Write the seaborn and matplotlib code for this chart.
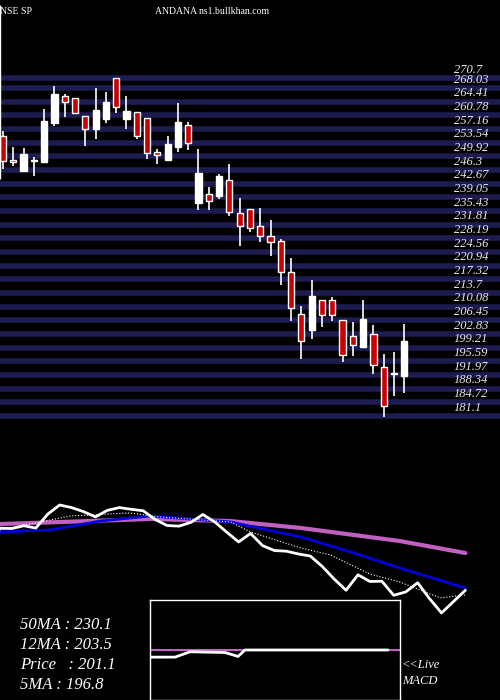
import numpy as np
import pandas as pd
import matplotlib
matplotlib.use("Agg")
import matplotlib.pyplot as plt
import seaborn as sns

sns.set_style("dark")
plt.rcParams['font.family'] = ['Liberation Serif', 'DejaVu Serif']

opens = [255.4, 248.9, 246.1, 248.6, 248.4, 258.9, 265.9, 265.4, 260.7, 257.1,
         259.9, 270.7, 259.9, 261.7, 260.1, 251.2, 248.9, 252.5, 258.3, 237.6,
         240.0, 239.5, 243.6, 235.0, 236.0, 231.5, 228.9, 227.6, 219.4, 208.1,
         203.8, 211.9, 211.9, 206.6, 202.4, 199.5, 202.9, 194.2, 192.1, 191.6]
highs = [256.6, 252.3, 252.1, 249.7, 262.6, 268.6, 266.4, 265.4, 260.7, 268.1,
         267.0, 270.7, 265.9, 261.7, 260.1, 251.8, 255.3, 264.1, 259.1, 251.8,
         241.8, 245.3, 247.8, 239.0, 236.0, 236.3, 233.1, 228.1, 223.0, 210.2,
         217.2, 211.9, 212.7, 206.6, 206.1, 211.9, 205.3, 197.4, 198.1, 205.6]
lows = [246.6, 247.3, 246.1, 244.8, 248.4, 258.1, 260.4, 261.3, 252.8, 254.4,
        258.9, 261.3, 257.3, 254.4, 249.1, 247.9, 248.9, 251.2, 251.5, 235.8,
        235.8, 238.6, 234.2, 226.1, 229.8, 227.3, 223.6, 215.8, 206.3, 196.2,
        201.6, 204.8, 206.3, 195.4, 197.0, 199.5, 192.1, 180.8, 186.4, 187.3]
closes = [248.6, 248.4, 250.5, 248.7, 259.4, 266.4, 264.4, 261.3, 257.3, 262.3,
          264.4, 263.1, 262.0, 255.3, 250.7, 250.2, 253.1, 259.1, 253.4, 245.6,
          238.1, 244.6, 235.3, 231.5, 231.0, 228.9, 227.3, 219.4, 209.7, 201.1,
          212.9, 207.8, 208.0, 197.2, 199.8, 206.8, 194.6, 183.7, 192.4, 201.1]

grid_labels = ['270.7', '268.03', '264.41', '260.78', '257.16', '253.54', '249.92',
               '246.3', '242.67', '239.05', '235.43', '231.81', '228.19', '224.56',
               '220.94', '217.32', '213.7', '210.08', '206.45', '202.83', '199.21',
               '195.59', '191.97', '188.34', '184.72', '181.1']

ma50_x = [0, 12.6, 19.3, 25.2, 33.5, 39]
ma50 = [251.8, 255.7, 254.1, 248.8, 238.8, 229.6]
ma12_x = [0, 4.2, 8.4, 12.6, 19.3, 25.2, 29.4, 33.5, 39]
ma12 = [245.7, 247.3, 254.1, 258.0, 253.4, 241.9, 230.4, 218.1, 202.8]
ma5_x = [0, 5.9, 10.9, 13.4, 19.3, 21, 25.2, 27.7, 31, 33.5, 36.9, 39]
ma5 = [247.3, 258.0, 260.3, 257.2, 253.4, 245.7, 233.5, 228.1, 213.5, 207.4, 195.2, 197.5]

macd_x = [0, 25, 40, 75, 88, 95, 238]
macd = [-2, -2, -0.5, -0.7, -1.8, 0, 0]
signal_x = [0, 250]
signal = [0, 0]

labels = ['50MA : 230.1', '12MA : 203.5', 'Price   : 201.1', '5MA : 196.8']

df = pd.DataFrame({'o': opens, 'h': highs, 'l': lows, 'c': closes})
df['i'] = np.arange(len(df))
df['up'] = df['c'] >= df['o']

fig = plt.figure(figsize=(5, 7), dpi=100, facecolor='black')

# price panel
ax = fig.add_axes([0, 1 - 455 / 700, 1, 455 / 700])
ax.set_facecolor('black')
for s in ax.spines.values():
    s.set_visible(False)
ax.set_xlim(-0.29, 48.3)
ax.set_ylim(270.7 - 455 * 0.2651 + 78 * 0.2651, 270.7 + 78 * 0.2651)
for lab in grid_labels:
    v = float(lab)
    ax.axhline(v, color='#1c1c50', lw=4, zorder=1)
    ax.text(43.8, v + 0.6, lab, color='#e8e8e8', fontsize=9, style='italic', va='bottom', zorder=3)
for _, r in df.iterrows():
    col = 'white' if r['up'] else '#cc0000'
    ax.vlines(r['i'], r['l'], r['h'], color='white', lw=1.2, zorder=2)
    lo, hi = min(r['o'], r['c']), max(r['o'], r['c'])
    ax.bar(r['i'], max(hi - lo, 0.4), bottom=lo, width=0.6, color=col,
           edgecolor='white', lw=1, zorder=3)
ax.vlines(-0.25, 244.0, 290.0, color='white', lw=1, zorder=4)
ax.set_xticks([])
ax.set_yticks([])

# moving average panel
ax2 = fig.add_axes([0, 0, 1, 245 / 700])
ax2.set_facecolor('black')
for s in ax2.spines.values():
    s.set_visible(False)
ax2.set_xlim(0, 41.9)
ax2.set_ylim(117.0, 304.7)
sns.lineplot(x=ma50_x, y=ma50, ax=ax2, color='#c060c0', lw=3)
sns.lineplot(x=ma12_x, y=ma12, ax=ax2, color='#0000dd', lw=2)
sns.lineplot(x=ma5_x, y=ma5, ax=ax2, color='white', lw=0.8, ls=':')
sns.lineplot(x=np.linspace(0, 39, len(closes)), y=closes, ax=ax2, color='white', lw=2)
ax2.set_xticks([])
ax2.set_yticks([])
for k, t in enumerate(labels):
    fig.text(20 / 500, 1 - (625 + 20 * k) / 700, t, color='white', fontsize=12,
             style='italic', va='center')
fig.text(402 / 500, 1 - 665 / 700, '<<Live', color='white', fontsize=9, style='italic', va='center')
fig.text(402 / 500, 1 - 681 / 700, 'MACD', color='white', fontsize=9, style='italic', va='center')

# MACD box
ax3 = fig.add_axes([150 / 500, 0, 250 / 500, 100 / 700])
ax3.set_facecolor('black')
for s in ax3.spines.values():
    s.set_color('white')
    s.set_linewidth(1)
ax3.set_xlim(0, 250)
ax3.set_ylim(-14, 14)
sns.lineplot(x=signal_x, y=signal, ax=ax3, color='#c060c0', lw=1.5)
sns.lineplot(x=macd_x, y=macd, ax=ax3, color='white', lw=2)
ax3.set_xticks([])
ax3.set_yticks([])

fig.text(0.0, 1 - 12 / 700, 'NSE SP', color='white', fontsize=7, va='center')
fig.text(155 / 500, 1 - 12 / 700, 'ANDANA ns1.bullkhan.com', color='white', fontsize=7, va='center')

fig.savefig('out.png', dpi=100, facecolor='black')
